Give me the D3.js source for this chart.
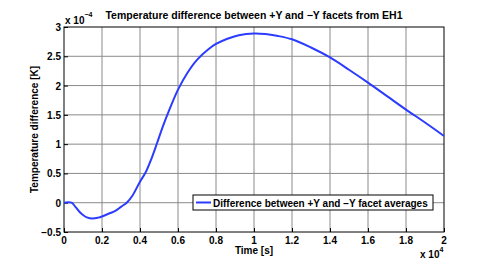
<!DOCTYPE html>
<html><head><meta charset="utf-8">
<script src="https://cdn.jsdelivr.net/npm/d3@7"></script>
<style>body{margin:0;background:#fff}text{font-family:"Liberation Sans",Arial,sans-serif;font-weight:bold;fill:#000}</style>
</head><body><svg id="c" width="491" height="273"></svg>
<script>
const timeX = [0,0.02,0.04,0.06,0.08,0.10,0.12,0.15,0.18,0.20,0.24,0.27,0.30,0.33,0.36,0.40,0.43,0.46,0.49,0.52,0.55,0.60,0.65,0.70,0.76,0.80,0.86,0.92,1.00,1.06,1.12,1.20,1.30,1.40,1.50,1.60,1.70,1.80,1.90,2.00];
const diffY = [0,0.01,0.0,-0.07,-0.15,-0.21,-0.25,-0.27,-0.255,-0.235,-0.18,-0.14,-0.07,0.0,0.12,0.36,0.52,0.75,1.02,1.3,1.55,1.93,2.22,2.44,2.62,2.71,2.80,2.86,2.89,2.88,2.85,2.79,2.65,2.48,2.27,2.05,1.82,1.59,1.37,1.14];
const xTicks = [0,0.2,0.4,0.6,0.8,1,1.2,1.4,1.6,1.8,2];
const yTicks = [-0.5,0,0.5,1,1.5,2,2.5,3];
const title = "Temperature difference between +Y and \u2212Y facets from EH1";
const xLabel = "Time [s]";
const yLabel = "Temperature difference [K]";
const legendLabel = "Difference between +Y and \u2212Y facet averages";

const svg = d3.select("#c");
const L=64,R=444,T=27,B=232;
const x = d3.scaleLinear().domain([0,2]).range([L,R]);
const y = d3.scaleLinear().domain([-0.5,3]).range([B,T]);
const fmt = v => (v<0?"\u2212":"") + String(Math.abs(v));

// grid
const g = svg.append("g");
g.selectAll(".vx").data(xTicks.slice(1,-1)).join("line")
 .attr("x1",d=>x(d)).attr("x2",d=>x(d)).attr("y1",T).attr("y2",B)
 .attr("stroke","#8a8a8a").attr("stroke-width",1);
g.selectAll(".hy").data(yTicks.slice(1,-1)).join("line")
 .attr("y1",d=>y(d)).attr("y2",d=>y(d)).attr("x1",L).attr("x2",R)
 .attr("stroke","#8a8a8a").attr("stroke-width",1);

// axes with inward ticks
const ax = svg.append("g").attr("transform",`translate(0,${B})`)
 .call(d3.axisTop(x).tickValues(xTicks).tickSize(4).tickFormat(""));
const ay = svg.append("g").attr("transform",`translate(${L},0)`)
 .call(d3.axisRight(y).tickValues(yTicks).tickSize(4).tickFormat(""));
[ax,ay].forEach(a=>{a.select(".domain").remove();a.selectAll("line").attr("stroke","#000");});
svg.append("rect").attr("x",L).attr("y",T).attr("width",R-L).attr("height",B-T)
 .attr("fill","none").attr("stroke","#000").attr("stroke-width",1);

// tick labels
svg.selectAll(".xl").data(xTicks).join("text").attr("x",d=>x(d)).attr("y",B+12)
 .attr("text-anchor","middle").attr("font-size",10).text(d=>fmt(d));
svg.selectAll(".yl").data(yTicks).join("text").attr("x",L-3).attr("y",d=>y(d)+4)
 .attr("text-anchor","end").attr("font-size",10).text(d=>fmt(d));

// exponents
const ey = svg.append("text").attr("x",L+1).attr("y",T-3).attr("font-size",10).attr("font-weight","normal");
ey.append("tspan").text("x 10");
ey.append("tspan").attr("dy",-7).attr("font-size",7).text("\u22124");
const ex = svg.append("text").attr("x",R-24).attr("y",B+26).attr("font-size",10);
ex.append("tspan").text("x 10");
ex.append("tspan").attr("dy",-6).attr("font-size",7).text("4");

// labels
svg.append("text").attr("x",(L+R)/2).attr("y",19).attr("text-anchor","middle").attr("font-size",10.5).text(title);
svg.append("text").attr("x",(L+R)/2).attr("y",B+22).attr("text-anchor","middle").attr("font-size",10).text(xLabel);
svg.append("text").attr("transform",`translate(38,${(T+B)/2}) rotate(-90)`).attr("text-anchor","middle").attr("font-size",10).text(yLabel);

// curve
svg.append("path").datum(timeX.map((t,i)=>[t,diffY[i]]))
 .attr("d",d3.line().x(d=>x(d[0])).y(d=>y(d[1])).curve(d3.curveCatmullRom.alpha(0.5)))
 .attr("fill","none").attr("stroke","#2b3cff").attr("stroke-width",2);

// legend
const lg = svg.append("g");
lg.append("rect").attr("x",193).attr("y",195).attr("width",240).attr("height",15)
 .attr("fill","#fff").attr("stroke","#000").attr("stroke-width",1);
lg.append("line").attr("x1",196).attr("x2",211).attr("y1",202.5).attr("y2",202.5).attr("stroke","#2b3cff").attr("stroke-width",2);
lg.append("text").attr("x",213).attr("y",206.5).attr("font-size",10).text(legendLabel);
</script></body></html>
